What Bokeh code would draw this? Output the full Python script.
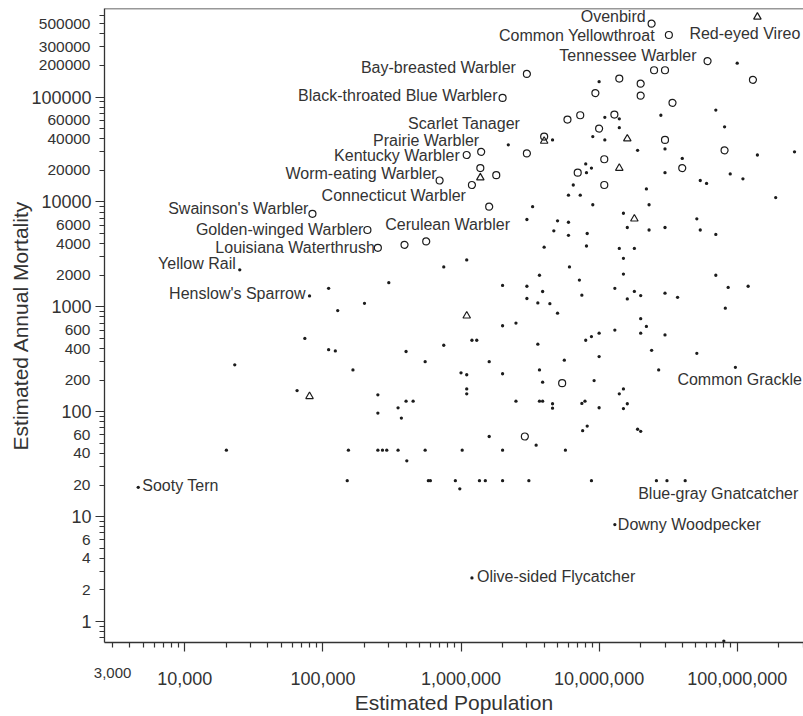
from bokeh.plotting import figure
from bokeh.models import (ColumnDataSource, FixedTicker, NumeralTickFormatter, Span,
                          LogAxis)
from bokeh.core.properties import value
from bokeh.embed import file_html
from bokeh.resources import INLINE

# ---------------- data ----------------
named_species = [
    "Ovenbird", "Common Yellowthroat", "Red-eyed Vireo", "Tennessee Warbler",
    "Bay-breasted Warbler", "Black-throated Blue Warbler", "Scarlet Tanager",
    "Prairie Warbler", "Kentucky Warbler", "Worm-eating Warbler",
    "Connecticut Warbler", "Cerulean Warbler", "Swainson's Warbler",
    "Golden-winged Warbler", "Louisiana Waterthrush", "Yellow Rail",
    "Henslow's Sparrow", "Sooty Tern", "Common Grackle",
    "Blue-gray Gnatcatcher", "Downy Woodpecker", "Olive-sided Flycatcher",
]
named_population = [
    2.4e7, 3.2e7, 1.4e8, 6.1e7, 3.0e6, 2.0e6, 4.0e6, 1.4e6, 1.1e6, 7.0e5,
    1.2e6, 5.6e5, 8.4e4, 2.1e5, 2.5e5, 2.5e4, 8.0e4, 4.6e3, 9.7e7, 4.2e7,
    1.3e7, 1.2e6,
]
named_mortality = [
    5.0e5, 3.9e5, 5.8e5, 2.2e5, 1.66e5, 9.8e4, 4.2e4, 3.0e4, 2.8e4, 1.6e4,
    1.45e4, 4.2e3, 7.7e3, 5.4e3, 3.65e3, 2.25e3, 1.27e3, 19, 265, 22,
    8.4, 2.6,
]
named_marker = [
    "circle", "circle", "triangle", "circle", "circle", "circle", "circle",
    "circle", "circle", "circle", "circle", "circle", "circle", "circle",
    "circle", "dot", "dot", "dot", "dot", "dot", "dot", "dot",
]

circle_population = [
    2.5e7, 3.0e7, 1.4e7, 1.3e8, 2.0e7, 2.0e7, 9.4e6, 3.4e7, 5.9e6, 7.3e6,
    1.29e7, 1.0e7, 3.0e7, 8.1e7, 1.09e7, 3.0e6, 1.38e6, 1.8e6, 7.0e6, 1.09e7,
    4.0e7, 1.6e6, 3.9e5, 5.4e6, 2.9e6,
]
circle_mortality = [
    1.8e5, 1.8e5, 1.5e5, 1.46e5, 1.34e5, 1.03e5, 1.09e5, 8.8e4, 6.1e4, 6.7e4,
    6.8e4, 5.0e4, 3.9e4, 3.1e4, 2.55e4, 2.9e4, 2.1e4, 1.8e4, 1.9e4, 1.45e4,
    2.1e4, 9.0e3, 3.9e3, 187, 58,
]

triangle_population = [4.0e6, 1.38e6, 1.6e7, 1.4e7, 1.8e7, 1.1e6, 8.0e4]
triangle_mortality = [3.8e4, 1.7e4, 4.0e4, 2.1e4, 6.9e3, 820, 140]

dot_population = [
    1.0e7, 1.0e8, 1.1e7, 1.4e7, 2.8e7, 7.0e7, 1.4e7, 8.1e7, 4.6e6, 2.2e6,
    9.0e6, 1.1e7, 3.0e7, 1.9e7, 1.4e8, 2.6e8, 4.0e7, 8.0e6, 8.1e6, 8.8e6,
    3.0e7, 5.4e7, 6.0e7, 8.9e7, 1.1e8, 2.2e7, 6.5e6, 1.9e8, 6.0e6, 7.3e6,
    9.0e6, 2.3e7, 3.3e6, 1.5e7, 5.1e7, 3.0e6, 5.0e6, 6.0e6, 1.6e7, 4.7e6,
    6.0e6, 8.2e6, 2.3e7, 3.0e7, 5.4e7, 7.0e7, 4.0e6, 8.1e6, 1.4e7, 1.8e7,
    1.1e6, 1.5e7, 7.5e5, 6.1e6, 3.7e6, 1.5e7, 7.0e7, 7.2e6, 3.0e5, 1.1e5,
    2.0e6, 3.0e6, 3.9e6, 7.5e6, 1.3e7, 1.8e7, 2.0e7, 3.0e7, 3.7e7, 8.6e7,
    1.2e8, 3.0e6, 1.6e7, 3.6e6, 4.4e6, 2.0e5, 8.2e7, 1.28e5, 5.0e6, 2.0e7,
    2.0e6, 2.5e6, 2.2e7, 1.3e7, 2.0e7, 3.0e7, 8.0e6, 8.8e6, 1.0e7, 1.2e6,
    1.3e6, 7.5e5, 3.6e6, 7.4e4, 1.1e5, 1.23e5, 4.0e5, 2.4e7, 5.1e7, 5.6e6,
    1.0e7, 1.6e6, 5.5e5, 2.3e4, 1.65e5, 1.0e6, 1.1e6, 3.7e6, 2.0e6, 2.7e7,
    3.9e6, 9.2e6, 1.1e6, 1.1e6, 1.5e7, 1.4e7, 6.5e4, 2.5e5, 4.0e5, 4.5e5,
    3.5e5, 2.5e5, 3.7e5, 2.5e6, 3.7e6, 3.9e6, 4.6e6, 4.6e6, 7.5e6, 7.9e6,
    1.0e7, 1.5e7, 1.6e7, 7.6e6, 8.2e6, 1.9e7, 2.0e7, 1.6e6, 3.5e6,
    2.0e4, 1.53e5, 2.5e5, 2.7e5, 2.9e5, 3.5e5, 5.5e5, 1.02e6, 2.0e6, 5.7e6,
    4.05e5,
    1.5e5, 5.8e5, 6.0e5, 9.1e5, 1.36e6, 1.5e6, 2.0e6, 3.1e6, 8.8e6, 2.6e7, 3.1e7,
    9.8e5, 8.0e7,
]
dot_mortality = [
    1.4e5, 2.1e5, 6.4e4, 6.2e4, 6.7e4, 7.5e4, 5.1e4, 5.2e4, 3.9e4, 3.5e4,
    4.2e4, 3.9e4, 3.2e4, 3.1e4, 2.8e4, 3.0e4, 2.6e4, 2.3e4, 1.9e4, 2.1e4,
    1.9e4, 1.6e4, 1.5e4, 1.85e4, 1.66e4, 1.33e4, 1.45e4, 1.1e4, 1.16e4, 1.16e4,
    9.4e3, 9.4e3, 9.0e3, 7.8e3, 6.9e3, 6.8e3, 6.6e3, 6.4e3, 5.7e3, 5.3e3,
    4.8e3, 5.0e3, 5.4e3, 5.7e3, 5.4e3, 4.9e3, 3.7e3, 3.8e3, 3.6e3, 3.6e3,
    2.8e3, 2.9e3, 2.4e3, 2.4e3, 2.0e3, 2.05e3, 2.0e3, 1.8e3, 1.7e3, 1.5e3,
    1.6e3, 1.57e3, 1.4e3, 1.29e3, 1.5e3, 1.4e3, 1.28e3, 1.35e3, 1.23e3, 1.53e3,
    1.57e3, 1.2e3, 1.19e3, 1.09e3, 1.07e3, 1.08e3, 970, 920, 870, 770,
    660, 700, 650, 600, 560, 540, 480, 520, 560, 480,
    480, 430, 440, 500, 390, 380, 375, 385, 360, 310,
    335, 300, 300, 280, 250, 235, 225, 250, 230, 250,
    191, 198, 165, 148, 165, 148, 159, 145, 126, 126,
    109, 97, 87, 126, 126, 126, 119, 108, 120, 126,
    109, 107, 119, 66, 73, 68, 65, 58, 48,
    43, 43, 43, 43, 43, 43, 43, 43, 43, 43,
    34,
    22, 22, 22, 22, 22, 22, 22, 22, 22, 22, 22,
    18.4, 0.65,
]

x_tick_values = [10000, 100000, 1000000, 10000000, 100000000]
x_small_tick_labels = [3000]
y_decade_ticks = [1, 10, 100, 1000, 10000, 100000]
y_small_tick_labels = [2, 4, 6, 20, 40, 60, 200, 400, 600, 2000, 4000, 6000,
                       20000, 40000, 60000, 200000, 300000, 500000]

# ---------------- style ----------------
FONT = "Liberation Sans"
INK = "#1c1c1c"
TEXT = "#333333"
AXIS = "#333333"
X_RANGE = (2621, 3.02e8)
Y_RANGE = (0.6305, 6.98e5)

# (alignment, x offset px, y offset px) of each species label from its point
LABEL_LAYOUT = {
    "Ovenbird": ("right", -6, -7),
    "Common Yellowthroat": ("right", -14, 0),
    "Red-eyed Vireo": ("left", -68, 17),
    "Tennessee Warbler": ("right", -11, -6),
    "Bay-breasted Warbler": ("right", -11, -6),
    "Black-throated Blue Warbler": ("right", -5, -2),
    "Scarlet Tanager": ("right", -24, -13),
    "Prairie Warbler": ("right", -2, -11),
    "Kentucky Warbler": ("right", -7, 0),
    "Worm-eating Warbler": ("right", -3, -7),
    "Connecticut Warbler": ("right", -6, 11),
    "Cerulean Warbler": ("left", -41, -17),
    "Swainson's Warbler": ("right", -4, -5),
    "Golden-winged Warbler": ("right", -4, 0),
    "Louisiana Waterthrush": ("right", -3, 0),
    "Yellow Rail": ("right", -4, -6),
    "Henslow's Sparrow": ("right", -4, -2),
    "Sooty Tern": ("left", 4, -2),
    "Common Grackle": ("left", -58, 12),
    "Blue-gray Gnatcatcher": ("left", -47, 13),
    "Downy Woodpecker": ("left", 3, 0),
    "Olive-sided Flycatcher": ("left", 5, -1),
}

x_minor = [m * 10 ** k for k in range(3, 9) for m in range(2, 10)
           if X_RANGE[0] < m * 10 ** k < X_RANGE[1]]
y_minor = [m * 10 ** k for k in range(-1, 6) for m in range(2, 10)
           if Y_RANGE[0] < m * 10 ** k < Y_RANGE[1]]

p = figure(width=803, height=716, x_axis_type="log", y_axis_type="log",
           x_range=X_RANGE, y_range=Y_RANGE,
           output_backend="svg", toolbar_location=None,
           min_border_left=104, min_border_right=0, min_border_top=8,
           min_border_bottom=74)
p.outline_line_color = None
p.grid.visible = False
p.background_fill_color = "white"
p.border_fill_color = "white"


def style_axis(ax, label_size):
    ax.axis_line_color = AXIS
    ax.axis_line_width = 1.3
    ax.major_tick_line_color = AXIS
    ax.minor_tick_line_color = AXIS
    ax.major_tick_line_width = 1.2
    ax.minor_tick_line_width = 1.2
    ax.major_tick_out = 9
    ax.major_tick_in = 0
    ax.minor_tick_out = 5
    ax.minor_tick_in = 0
    ax.major_label_text_font = FONT
    ax.major_label_text_font_size = label_size
    ax.major_label_text_color = TEXT
    ax.axis_label_text_font = FONT
    ax.axis_label_text_font_size = "21px"
    ax.axis_label_text_font_style = "normal"
    ax.axis_label_text_color = TEXT


def label_only_axis(ax):
    # an axis that only carries (smaller) tick labels, drawn over the main one
    ax.axis_line_color = None
    ax.major_tick_line_color = None
    ax.minor_tick_line_color = None
    ax.major_tick_out = 0
    ax.major_tick_in = 0
    ax.minor_tick_out = 0
    ax.minor_tick_in = 0


xa = p.xaxis[0]
style_axis(xa, "18px")
xa.ticker = FixedTicker(ticks=x_tick_values, minor_ticks=x_minor)
xa.formatter = NumeralTickFormatter(format="0,0")
xa.major_label_standoff = 20

ya = p.yaxis[0]
style_axis(ya, "18px")
ya.ticker = FixedTicker(ticks=y_decade_ticks, minor_ticks=y_minor)
ya.formatter = NumeralTickFormatter(format="0")
ya.major_label_standoff = 4

# second x axis: the small "3,000" label + axis title
xa2 = LogAxis(ticker=FixedTicker(ticks=x_small_tick_labels, minor_ticks=[]),
              formatter=NumeralTickFormatter(format="0,0"))
style_axis(xa2, "15px")
label_only_axis(xa2)
xa2.major_label_standoff = -20
xa2.axis_label_standoff = 10
xa2.axis_label = "Estimated Population"
p.add_layout(xa2, "below")

# second y axis: the smaller non-decade labels + axis title
ya2 = LogAxis(ticker=FixedTicker(ticks=y_small_tick_labels, minor_ticks=[]),
              formatter=NumeralTickFormatter(format="0"))
style_axis(ya2, "15.5px")
label_only_axis(ya2)
ya2.major_label_standoff = -62
ya2.axis_label_standoff = 4
ya2.axis_label = "Estimated Annual Mortality"
p.add_layout(ya2, "left")

p.add_layout(Span(location=Y_RANGE[1], dimension="width",
                  line_color=AXIS, line_width=1.3))

# markers
def pick(kind):
    xs = [x for x, k in zip(named_population, named_marker) if k == kind]
    ys = [y for y, k in zip(named_mortality, named_marker) if k == kind]
    return xs, ys

nx, ny = pick("dot")
p.scatter(dot_population + nx, dot_mortality + ny, marker="circle", size=3.3,
          fill_color=INK, line_color=None)
nx, ny = pick("circle")
p.scatter(circle_population + nx, circle_mortality + ny, marker="circle", size=7,
          fill_color=None, line_color=INK, line_width=1.2)
nx, ny = pick("triangle")
p.scatter(triangle_population + nx, triangle_mortality + ny, marker="triangle",
          size=7.5, fill_color=None, line_color=INK, line_width=1.2)

# species labels
for align in ("left", "right"):
    idx = [i for i, n in enumerate(named_species) if LABEL_LAYOUT[n][0] == align]
    src = ColumnDataSource(dict(
        x=[named_population[i] for i in idx],
        y=[named_mortality[i] for i in idx],
        text=[named_species[i] for i in idx],
        dx=[LABEL_LAYOUT[named_species[i]][1] for i in idx],
        dy=[LABEL_LAYOUT[named_species[i]][2] for i in idx],
    ))
    p.text(x="x", y="y", text="text", x_offset="dx", y_offset="dy", source=src,
           text_align=align, text_baseline="middle", text_font=value(FONT),
           text_font_size=value("16px"), text_color=TEXT)

open("out.html", "w").write(file_html(p, INLINE))
